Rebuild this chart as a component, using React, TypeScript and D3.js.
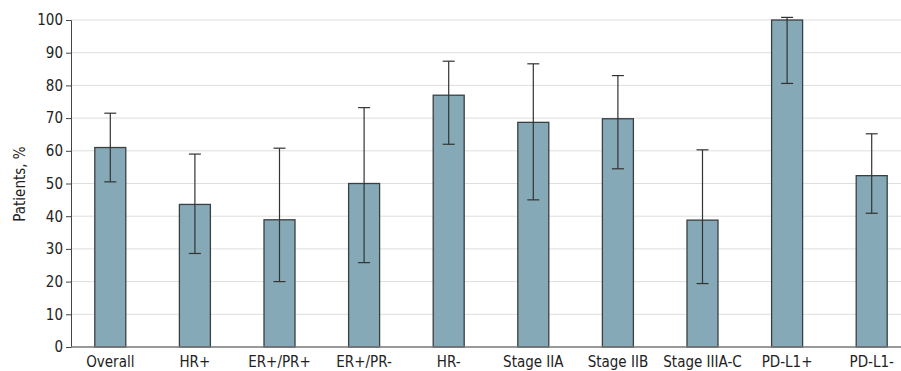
import { useEffect, useRef } from 'react';
import * as d3 from 'd3';

// Response rate by subgroup, with 95% CI
const CATEGORIES = ['Overall', 'HR+', 'ER+/PR+', 'ER+/PR-', 'HR-', 'Stage IIA', 'Stage IIB', 'Stage IIIA-C', 'PD-L1+', 'PD-L1-'];
const VALUES = [61, 43.6, 38.9, 50, 77, 68.7, 69.8, 38.8, 100, 52.4];
const CI_LOW = [50.5, 28.6, 20, 25.8, 62, 45, 54.5, 19.4, 80.6, 40.9];
const CI_HIGH = [71.5, 59, 60.8, 73.2, 87.4, 86.6, 83, 60.3, 100.8, 65.2];
const Y_TICKS = [0, 10, 20, 30, 40, 50, 60, 70, 80, 90, 100];

const W = 901;
const H = 371;
const FONT = '"DejaVu Sans Condensed", "Liberation Sans Narrow", "Open Sans", sans-serif';

export default function App() {
  const svgRef = useRef<SVGSVGElement>(null);

  useEffect(() => {
    document.body.style.margin = '0';
    const el = svgRef.current;
    if (!el) return;
    const svg = d3.select(el);
    svg.selectAll('*').remove();

    const left = 71;
    const top = 20;
    const bottom = 347;

    const x = d3.scaleBand<string>().domain(CATEGORIES).range([68, 914]).padding(0);
    const y = d3.scaleLinear().domain([0, 100]).range([bottom, top]);
    const barW = 31;

    // gridlines
    svg.append('g')
      .selectAll('line')
      .data(Y_TICKS.filter((t) => t > 0))
      .join('line')
      .attr('x1', left).attr('x2', W)
      .attr('y1', (d) => y(d)).attr('y2', (d) => y(d))
      .attr('stroke', '#dedede')
      .attr('stroke-width', 1);

    // y axis
    const yAxis = svg.append('g')
      .attr('transform', `translate(${left},0)`)
      .call(d3.axisLeft(y).tickValues(Y_TICKS).tickSize(5).tickPadding(3));
    yAxis.select('.domain').attr('stroke', '#444').attr('stroke-width', 1);
    yAxis.selectAll('.tick line').attr('stroke', '#444');
    yAxis.selectAll('.tick text')
      .attr('font-family', FONT)
      .attr('font-size', 15)
      .attr('fill', '#222');

    // bars
    svg.append('g')
      .selectAll('rect')
      .data(CATEGORIES)
      .join('rect')
      .attr('x', (d) => x(d)! + x.bandwidth() / 2 - barW / 2)
      .attr('y', (_, i) => y(VALUES[i]))
      .attr('width', barW)
      .attr('height', (_, i) => bottom - y(VALUES[i]))
      .attr('fill', '#85a9b7')
      .attr('stroke', '#3a3f42')
      .attr('stroke-width', 1.3);

    // baseline
    svg.append('line')
      .attr('x1', left).attr('x2', W)
      .attr('y1', bottom).attr('y2', bottom)
      .attr('stroke', '#777')
      .attr('stroke-width', 1.5);

    // error bars
    const eb = svg.append('g').attr('stroke', '#333').attr('stroke-width', 1.2);
    CATEGORIES.forEach((c, i) => {
      const cx = x(c)! + x.bandwidth() / 2;
      eb.append('line').attr('x1', cx).attr('x2', cx).attr('y1', y(CI_LOW[i])).attr('y2', y(CI_HIGH[i]));
      [CI_LOW[i], CI_HIGH[i]].forEach((v) => {
        eb.append('line').attr('x1', cx - 6).attr('x2', cx + 6).attr('y1', y(v)).attr('y2', y(v));
      });
    });

    // category labels
    svg.append('g')
      .selectAll('text')
      .data(CATEGORIES)
      .join('text')
      .attr('x', (d) => x(d)! + x.bandwidth() / 2)
      .attr('y', 367)
      .attr('text-anchor', 'middle')
      .attr('font-family', FONT)
      .attr('font-size', 15)
      .attr('fill', '#222')
      .text((d) => d);

    // y title
    svg.append('text')
      .attr('transform', `translate(25,184) rotate(-90)`)
      .attr('text-anchor', 'middle')
      .attr('font-family', FONT)
      .attr('font-size', 15)
      .attr('fill', '#222')
      .text('Patients, %');
  }, []);

  return <svg ref={svgRef} width={W} height={H} style={{ display: 'block', background: '#fff' }} />;
}
